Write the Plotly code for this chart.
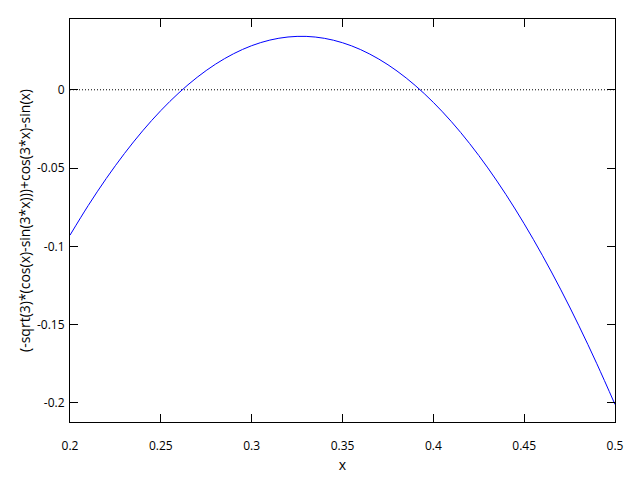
import plotly.graph_objects as go

x_vals = [0.20, 0.21, 0.22, 0.23, 0.24, 0.25, 0.26, 0.27, 0.28, 0.29, 0.30,
          0.31, 0.32, 0.33, 0.34, 0.35, 0.36, 0.37, 0.38, 0.39, 0.40,
          0.41, 0.42, 0.43, 0.44, 0.45, 0.46, 0.47, 0.48, 0.49, 0.50]
y_vals = [-0.09287, -0.07400, -0.05659, -0.04066, -0.02622, -0.01329, -0.00189,
          0.00797, 0.01627, 0.02300, 0.02816, 0.03173, 0.03371, 0.03409,
          0.03287, 0.03005, 0.02563, 0.01960, 0.01198, 0.00277, -0.00805,
          -0.02043, -0.03439, -0.04991, -0.06698, -0.08558, -0.10570,
          -0.12732, -0.15042, -0.17499, -0.20100]

x_ticks = [0.2, 0.25, 0.3, 0.35, 0.4, 0.45, 0.5]
x_tick_text = ["0.2", "0.25", "0.3", "0.35", "0.4", "0.45", "0.5"]
y_ticks = [0, -0.05, -0.1, -0.15, -0.2]
y_tick_text = ["0", "-0.05", "-0.1", "-0.15", "-0.2"]
zero_x = [0.2, 0.5]
zero_y = [0, 0]

x_range = [0.2, 0.5]
y_range = [-0.2122, 0.0452]

fig = go.Figure()
fig.add_trace(go.Scatter(x=zero_x, y=zero_y, mode="lines",
                         line=dict(color="black", width=1, dash="1px,2px"),
                         hoverinfo="skip", showlegend=False))
fig.add_trace(go.Scatter(x=x_vals, y=y_vals, mode="lines",
                         line=dict(color="blue", width=1, shape="spline"),
                         showlegend=False))

font = dict(family="Open Sans, Noto Sans, sans-serif", size=12, color="black")
fig.update_layout(
    width=632, height=472,
    margin=dict(l=62, r=25, t=10, b=55),
    paper_bgcolor="white", plot_bgcolor="white",
    font=font,
    xaxis=dict(range=x_range, tickvals=x_ticks, ticktext=x_tick_text,
               ticks="inside", ticklen=8, tickcolor="black", tickwidth=1,
               showline=True, linecolor="black", linewidth=1, mirror="allticks",
               showgrid=False, zeroline=False, ticklabelstandoff=13,
               title=dict(text="x", standoff=6)),
    yaxis=dict(range=y_range, tickvals=y_ticks, ticktext=y_tick_text,
               ticks="inside", ticklen=8, tickcolor="black", tickwidth=1,
               showline=True, linecolor="black", linewidth=1, mirror="allticks",
               showgrid=False, zeroline=False, ticklabelstandoff=2,
               title=dict(text="(-sqrt(3)*(cos(x)-sin(3*x)))+cos(3*x)-sin(x)", standoff=3)),
)

fig.write_html("out.html")
